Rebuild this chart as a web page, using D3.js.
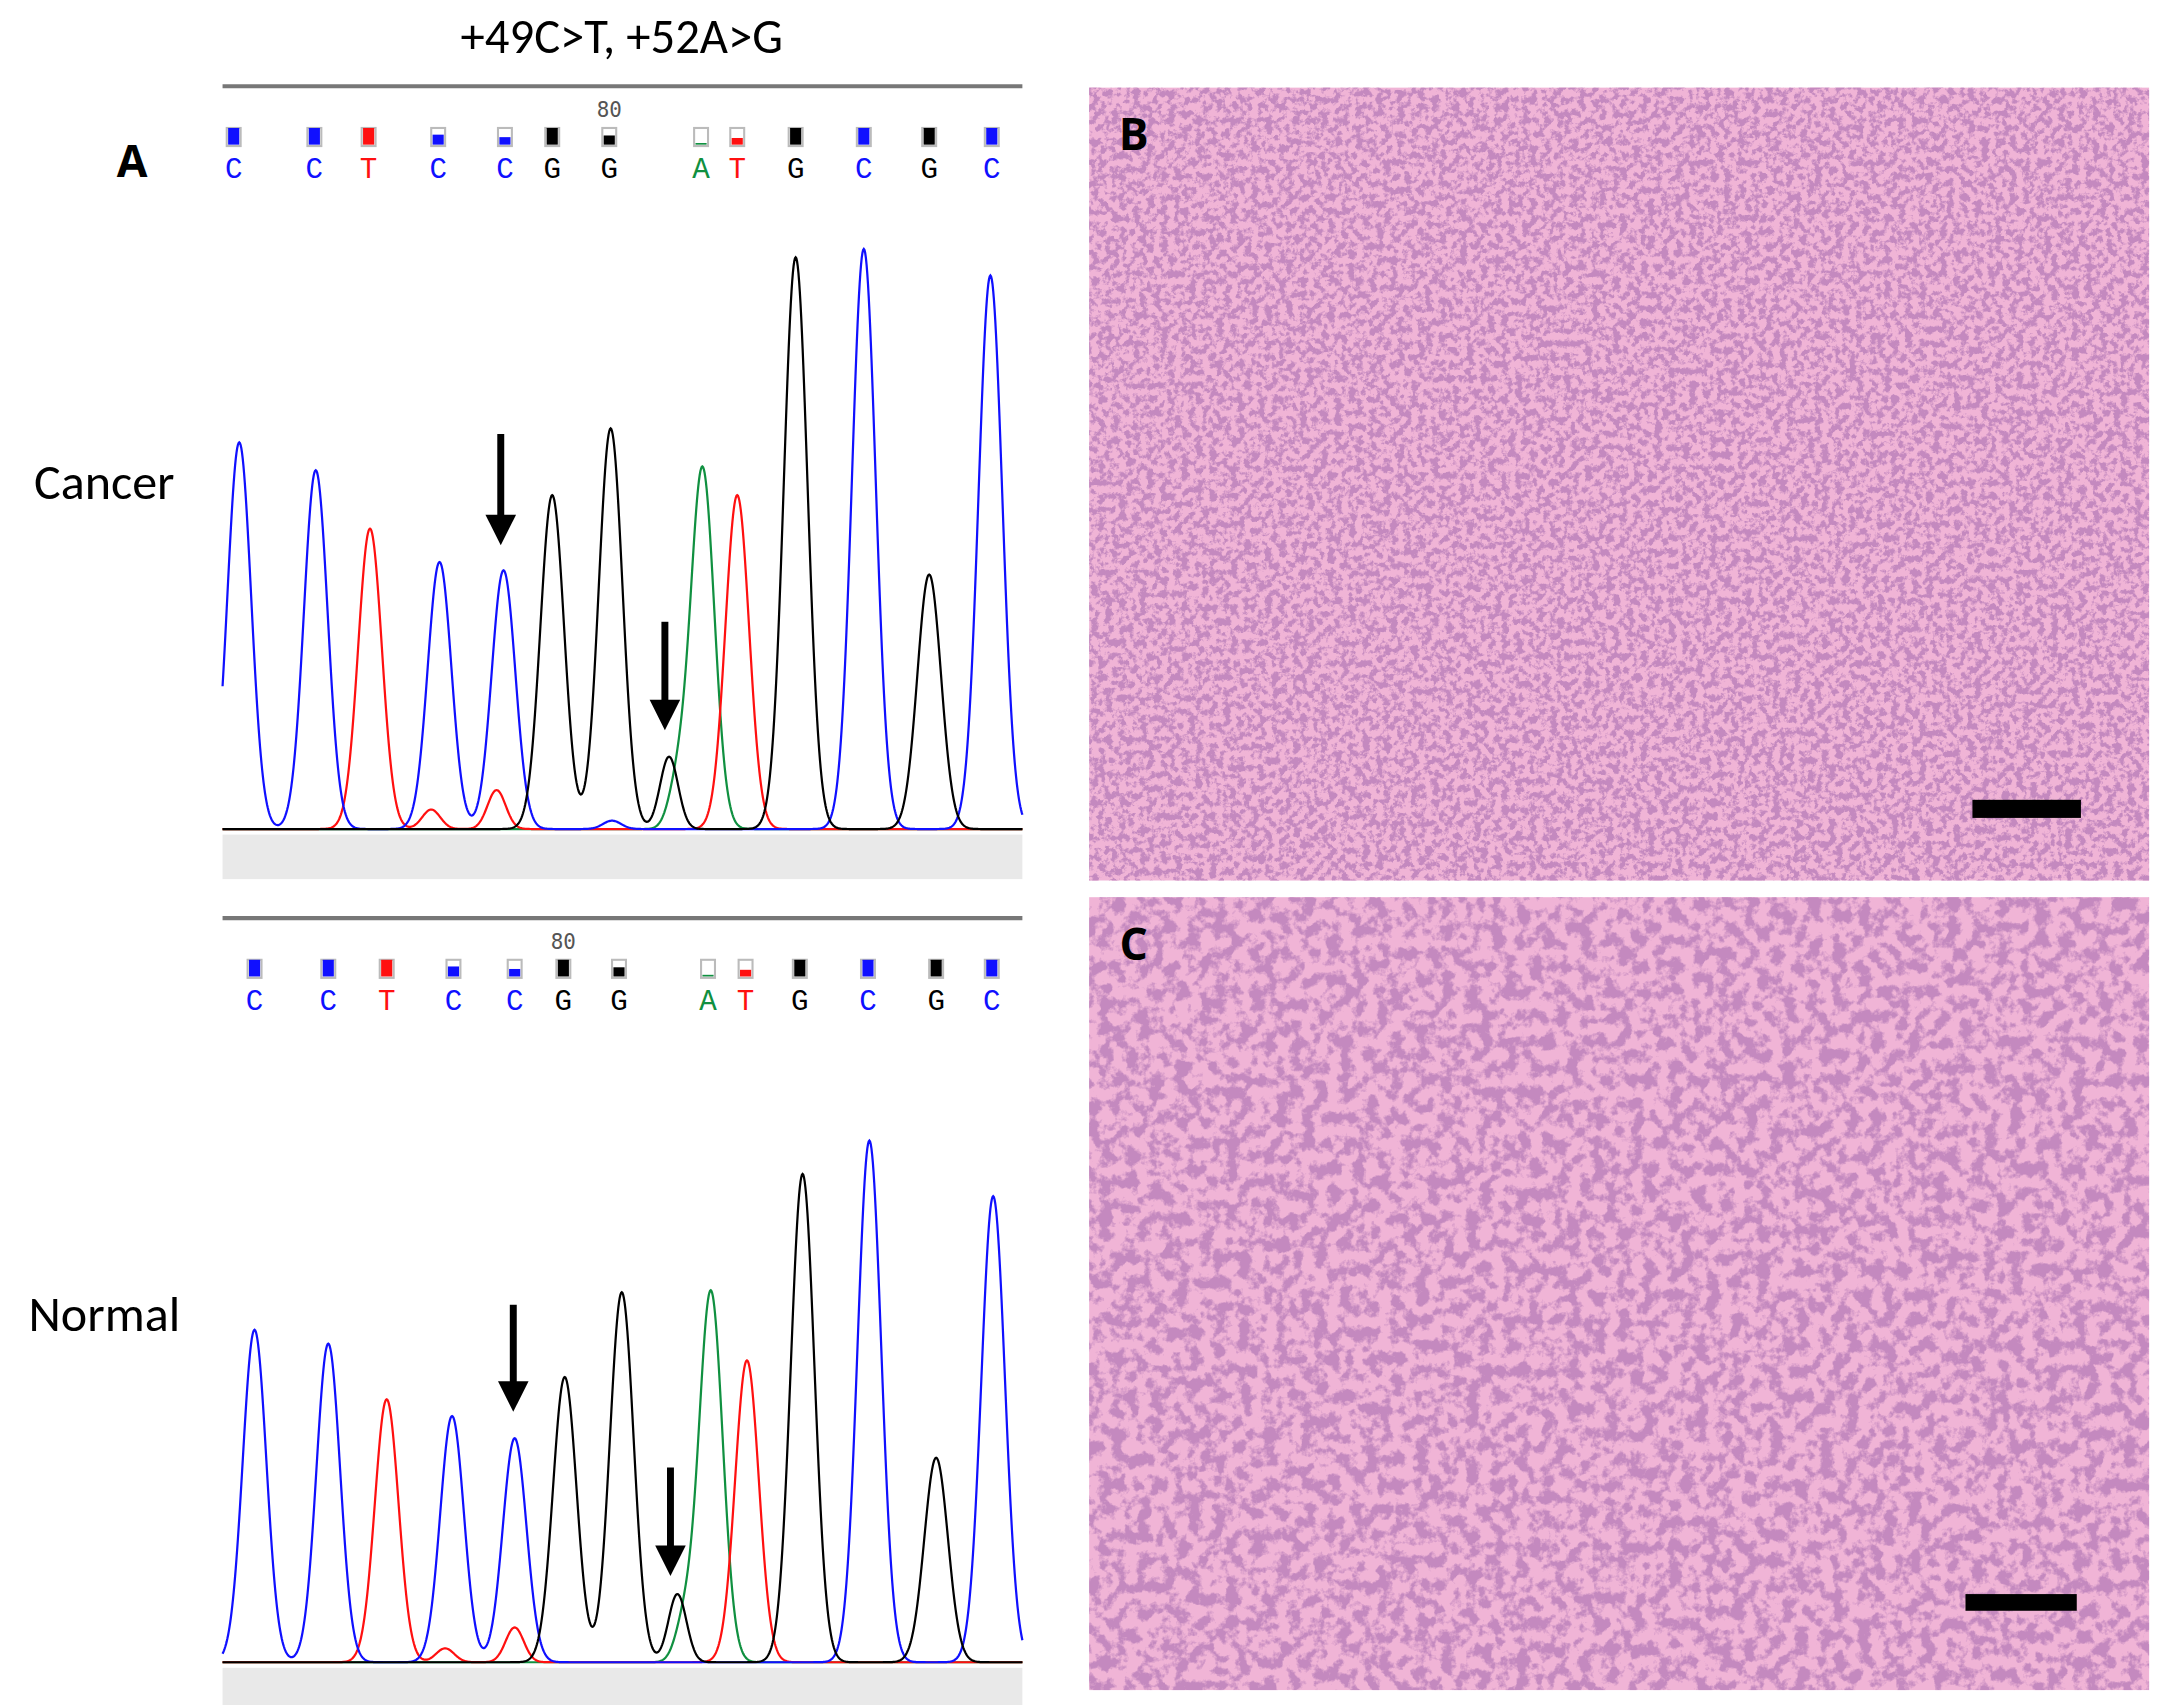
<!DOCTYPE html>
<html><head><meta charset="utf-8">
<script src="https://cdn.jsdelivr.net/npm/d3@7"></script>
<style>body{margin:0;background:#fff}</style>
</head><body>
<svg id="fig" width="2170" height="1705"></svg>
<script>
// base calls shown above each trace
var cancerBases = ["C","C","T","C","C","G","G","A","T","G","C","G","C"];
var cancerBaseX = [168,226,265,315,363,397,438,504,530,572,621,668,713];
var normalBases = ["C","C","T","C","C","G","G","A","T","G","C","G","C"];
var normalBaseX = [183,236,278,326,370,405,445,509,536,575,624,673,713];
// quality bar fill (0..1)
var baseQual = [1,1,1,0.6,0.45,1,0.55,0.1,0.4,1,1,1,1];

// peaks: [channel, position, height]
var cancerPeaks = [
  ["C",172,278],["C",227,258],["T",266,216],["C",316,192],["C",362,186],
  ["G",397,240],["G",439,288],["G",481,52],["A",505,260],["T",530,240],
  ["G",572,411],["C",621,417],["G",668,183],["C",712,398],
  ["T",357,28],["T",310,14],["A",487,30],["C",440,6]
];
var normalPeaks = [
  ["C",183,239],["C",236,229],["T",278,189],["C",325,177],["C",370,161],
  ["G",406,205],["G",447,266],["G",487,49],["A",511,267],["T",537,217],
  ["G",577,351],["C",625,375],["G",673,147],["C",714,335],
  ["T",370,25],["T",320,10],["A",492,28]
];
var cancerArrows = [[360,312,392],[478,447,525]];
var normalArrows = [[369,938,1015],[482,1055,1133]];

var chColor = {C:"#1010ff", T:"#ff1010", G:"#000000", A:"#109040"};

var svg = d3.select("#fig");
var g = svg.append("g").attr("transform","scale(1.391)");

g.append("text").attr("x",447).attr("y",38).attr("text-anchor","middle")
  .style("font","35px Calibri, 'Open Sans', sans-serif").text("+49C>T, +52A>G");

function drawPanel(top, base, bases, baseX, peaks, arrows, label, labelY, mark80) {
  g.append("line").attr("x1",160).attr("x2",735).attr("y1",top).attr("y2",top)
    .attr("stroke","#777").attr("stroke-width",3);
  g.append("rect").attr("x",160).attr("y",base+2).attr("width",575).attr("height",32).attr("fill","#e9e9e9");
  g.append("text").attr("x",baseX[mark80]).attr("y",top+22).attr("text-anchor","middle")
    .style("font","15px 'DejaVu Sans Mono', monospace").attr("fill","#555").text("80");
  bases.forEach(function(b,i){
    var x = baseX[i], q = baseQual[i];
    g.append("rect").attr("x",x-5).attr("y",top+30).attr("width",10).attr("height",13)
      .attr("fill","#fff").attr("stroke","#bbb").attr("stroke-width",1.5);
    g.append("rect").attr("x",x-4).attr("y",top+30+12*(1-q)).attr("width",8).attr("height",12*q)
      .attr("fill",chColor[b]);
    g.append("text").attr("x",x).attr("y",top+66).attr("text-anchor","middle")
      .style("font","21px 'Liberation Mono', 'DejaVu Sans Mono', monospace").attr("fill",chColor[b]).text(b);
  });
  var x = d3.scaleLinear().domain([160,735]).range([160,735]);
  var y = d3.scaleLinear().domain([0,420]).range([base,base-420]);
  var xs = d3.range(160,735.5,0.5);
  ["A","T","C","G"].forEach(function(ch){
    var pk = peaks.filter(function(p){return p[0]===ch;});
    var pts = xs.map(function(px){
      var v = 2;
      pk.forEach(function(p){ var s = p[2] > 60 ? 8.5 : 6.5; v += p[2]*Math.exp(-Math.pow(px-p[1],2)/(2*s*s)); });
      return [px, v];
    });
    g.append("path").datum(pts).attr("fill","none").attr("stroke",chColor[ch]).attr("stroke-width",1.6)
      .attr("d", d3.line().x(function(d){return x(d[0]);}).y(function(d){return y(d[1]);}));
  });
  arrows.forEach(function(a){
    g.append("line").attr("x1",a[0]).attr("x2",a[0]).attr("y1",a[1]).attr("y2",a[2]-18)
      .attr("stroke","#000").attr("stroke-width",5);
    g.append("path").attr("d","M"+(a[0]-11)+","+(a[2]-22)+"L"+(a[0]+11)+","+(a[2]-22)+"L"+a[0]+","+a[2]+"Z").attr("fill","#000");
  });
  g.append("text").attr("x",75).attr("y",labelY).attr("text-anchor","middle")
    .style("font","36px Calibri, 'Open Sans', sans-serif").text(label);
}

g.append("text").attr("x",95).attr("y",127).attr("text-anchor","middle")
  .style("font","bold 32px 'Open Sans', sans-serif").text("A");
drawPanel(62, 598, cancerBases, cancerBaseX, cancerPeaks, cancerArrows, "Cancer", 359, 6);
drawPanel(660, 1197, normalBases, normalBaseX, normalPeaks, normalArrows, "Normal", 957, 5);

// histology panels (photographs approximated as stained texture)
var defs = svg.append("defs");
function tissue(id, freq) {
  var f = defs.append("filter").attr("id",id).attr("x",0).attr("y",0).attr("width","100%").attr("height","100%");
  f.append("feTurbulence").attr("type","fractalNoise").attr("baseFrequency",freq).attr("numOctaves",4).attr("seed",7);
  f.append("feColorMatrix").attr("type","matrix")
    .attr("values","0 0 0 0 0.55  0 0 0 0 0.25  0 0 0 0 0.52  0 0 0 -6 3.35");
  f.append("feComposite").attr("in2","SourceGraphic").attr("operator","in");
}
tissue("tB",0.2); tissue("tC",0.11);
var panels = [["B",783,63,"tB",[1418,575,78,13]],["C",783,645,"tC",[1413,1146,80,12]]];
panels.forEach(function(p){
  g.append("rect").attr("x",p[1]).attr("y",p[2]).attr("width",762).attr("height",570).attr("fill","#f0b4d6");
  g.append("rect").attr("x",p[1]).attr("y",p[2]).attr("width",762).attr("height",570).attr("fill","#fff").attr("filter","url(#"+p[3]+")");
  g.append("text").attr("x",p[1]+32).attr("y",p[2]+45).attr("text-anchor","middle")
    .style("font","bold 32px 'Open Sans', sans-serif").text(p[0]);
  g.append("rect").attr("x",p[4][0]).attr("y",p[4][1]).attr("width",p[4][2]).attr("height",p[4][3]).attr("fill","#000");
});
</script>
</body></html>
